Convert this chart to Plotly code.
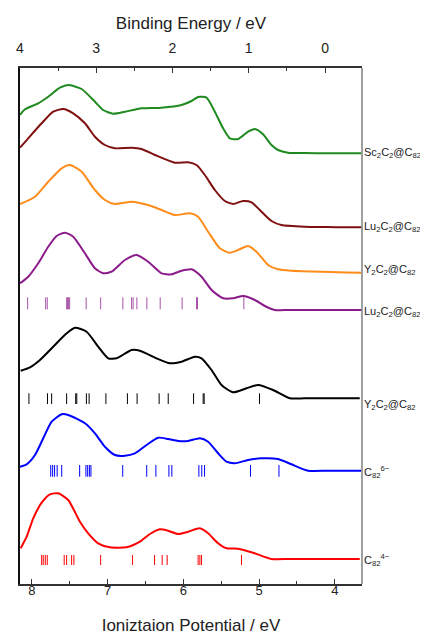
import plotly.graph_objects as go

# ---------------- data ----------------
names = ["Sc2C2@C82", "Lu2C2@C82", "Y2C2@C82", "Lu2C2@C82 (calc)", "Y2C2@C82 (calc)", "C82 6-", "C82 4-"]

green_ip = [8.158, 8.092, 7.917, 7.785, 7.630, 7.521, 7.344, 7.168, 7.059, 6.927, 6.772, 6.552, 6.288, 6.024,
            5.892, 5.805, 5.694, 5.584, 5.475, 5.386, 5.277, 5.145, 5.056, 4.947, 4.836, 4.749, 4.617,
            4.40, 4.10, 3.85, 3.648]
green_int = [38.3, 44, 50, 56.6, 65.6, 68.3, 64.3, 51.6, 43.3, 39.6, 41.6, 45, 45.6, 48.3,
             52.3, 56.3, 55.6, 41.6, 25, 15, 14.3, 21.6, 24.3, 19, 8.3, 3.3, 0.6,
             0.2, 0.1, 0, 0]

dred_ip = [8.158, 8.049, 7.872, 7.719, 7.587, 7.455, 7.300, 7.168, 7.036, 6.904, 6.684, 6.552, 6.376, 6.112,
           5.937, 5.826, 5.716, 5.584, 5.452, 5.343, 5.211, 5.100, 4.968, 4.836, 4.704, 4.396,
           4.10, 3.85, 3.648]
dred_int = [79.6, 89, 104, 115.6, 118.3, 114, 104, 90.6, 82.3, 79, 79.6, 78.3, 72.3, 64.6,
            65, 62.3, 52.3, 37.3, 26.3, 23.3, 26.3, 25, 15.6, 6.3, 2.3, 0.6,
            0.3, 0, 0]

orange_ip = [8.158, 7.960, 7.785, 7.608, 7.498, 7.344, 7.168, 7.036, 6.904, 6.684, 6.465, 6.288, 6.112,
             5.914, 5.805, 5.673, 5.518, 5.386, 5.277, 5.145, 5.034, 4.881, 4.749, 4.572,
             4.30, 4.05, 3.85, 3.648]
orange_int = [68.7, 76, 91, 104.4, 107.7, 101, 82.7, 72.7, 68.7, 71, 67.7, 62.7, 57.7,
              59.4, 56, 41, 24.4, 20, 22.7, 26.7, 21, 7.7, 3.4, 2,
              1.2, 0.6, 0.2, 0]

purple_ip = [8.158, 8.049, 7.917, 7.785, 7.674, 7.564, 7.455, 7.300, 7.168, 7.059, 6.948, 6.772, 6.618,
             6.465, 6.288, 6.156, 6.024, 5.892, 5.760, 5.628, 5.475, 5.343, 5.211, 5.056, 4.924, 4.792,
             4.60, 4.30, 4.00, 3.648]
purple_int = [26.7, 33.3, 46.7, 63.3, 74, 77.3, 73.3, 56.7, 41.7, 36.7, 38.3, 50, 55,
              48.3, 36.7, 35.7, 39.3, 40.7, 33.3, 20, 11.7, 11.7, 14, 10, 4, 0,
              0, 0, 0, 0]
purple_sticks = [8.057, 7.819, 7.798, 7.542, 7.529, 7.516, 7.502, 7.284, 7.092, 6.799, 6.684, 6.663,
                 6.614, 6.482, 6.306, 6.016, 5.826, 5.813, 5.201]

black_ip = [8.149, 8.026, 7.894, 7.719, 7.542, 7.432, 7.278, 7.125, 6.993, 6.882, 6.684, 6.574, 6.354,
            6.178, 6.024, 5.848, 5.760, 5.628, 5.496, 5.343, 5.166, 5.013, 4.815, 4.594,
            4.40, 4.10, 3.90, 3.670]
black_int = [27.6, 31, 38.3, 51.6, 65, 70.6, 66.6, 51.6, 40, 40, 48.3, 47.6, 40,
             35, 36.6, 41.6, 40, 28.3, 13.3, 6, 10, 13.3, 8.3, 0,
             0, 0, 0, 0]
black_sticks = [8.040, 7.795, 7.740, 7.542, 7.422, 7.408, 7.281, 7.245, 7.023, 6.739, 6.611, 6.320,
                6.200, 5.865, 5.738, 5.725, 4.994]

blue_ip = [8.158, 8.070, 7.960, 7.851, 7.740, 7.608, 7.521, 7.300, 7.168, 7.036, 6.904, 6.772, 6.640,
           6.486, 6.333, 6.201, 6.069, 5.937, 5.782, 5.673, 5.541, 5.430, 5.320, 5.145, 4.968, 4.749,
           4.572, 4.352, 4.10, 3.90, 3.648]
blue_int = [4, 6.4, 15.7, 32.4, 49, 56.4, 55.7, 47.4, 37.4, 24, 15.7, 15, 17.4,
            25.7, 33, 31.7, 29.7, 29.7, 32.4, 29, 17.4, 9, 7.4, 10.7, 12.4, 11.7,
            6.4, 0, 0, 0, 0]
blue_sticks = [7.752, 7.727, 7.701, 7.667, 7.607, 7.370, 7.287, 7.264, 7.241, 7.221, 6.801, 6.484,
               6.363, 6.191, 6.152, 5.795, 5.757, 5.720, 5.113, 4.737]

red_ip = [8.149, 8.070, 7.983, 7.872, 7.762, 7.653, 7.521, 7.366, 7.257, 7.125, 6.970, 6.750, 6.574,
          6.442, 6.310, 6.201, 6.069, 5.937, 5.782, 5.673, 5.541, 5.430, 5.277, 5.079, 4.836,
          4.60, 4.30, 4.00, 3.670]
red_int = [10.7, 22.3, 40.7, 56.3, 64.7, 65.7, 59, 37.3, 25.7, 15.7, 11.7, 11.7, 17.3,
           25, 29.7, 28.3, 25, 27.3, 30.7, 25.7, 15.7, 10.7, 10.3, 6.3, 0,
           0, 0, 0, 0]
red_sticks = [7.872, 7.851, 7.824, 7.798, 7.574, 7.542, 7.476, 7.446, 7.093, 6.671, 6.380, 6.280,
              6.214, 5.805, 5.782, 5.760, 5.232]

bottom_ticks = [8, 7, 6, 5, 4]
top_ticks = [4, 3, 2, 1, 0]

# ---------------- layout / style ----------------
offsets = [430.7, 356.7, 311.3, 274.0, 185.7, 113.3, 25.0]
colors = ["#1f8a1f", "#7f1010", "#ff8c1a", "#8b1a8b", "#000000", "#0000ff", "#ff0000"]
stick_colors = ["", "", "", "rgba(139,26,139,0.75)", "#000000", "#0000ff", "#ff0000"]
stick_span = [None, None, None, (0.7, 12.7), (-5.7, 5.0), (-6.0, 5.7), (-6.0, 4.0)]
labels = ["Sc<sub>2</sub>C<sub>2</sub>@C<sub>82</sub>",
          "Lu<sub>2</sub>C<sub>2</sub>@C<sub>82</sub>",
          "Y<sub>2</sub>C<sub>2</sub>@C<sub>82</sub>",
          "Lu<sub>2</sub>C<sub>2</sub>@C<sub>82</sub>",
          "Y<sub>2</sub>C<sub>2</sub>@C<sub>82</sub>",
          "C<sub>82</sub><sup>6−</sup>",
          "C<sub>82</sub><sup>4−</sup>"]
label_shift = [0, 0, 3, -2, -7, -1, -1]

curves = [(green_ip, green_int), (dred_ip, dred_int), (orange_ip, orange_int), (purple_ip, purple_int),
          (black_ip, black_int), (blue_ip, blue_int), (red_ip, red_int)]
sticks = [None, None, None, purple_sticks, black_sticks, blue_sticks, red_sticks]

FONT = "Liberation Sans"
fig = go.Figure()

for i, (xs, ys) in enumerate(curves):
    fig.add_trace(go.Scatter(x=xs, y=[v + offsets[i] for v in ys], mode="lines",
                             line=dict(color=colors[i], width=2, shape="spline", smoothing=0.6),
                             name=names[i], showlegend=False, hoverinfo="skip"))
    if sticks[i]:
        lo, hi = stick_span[i]
        sx, sy = [], []
        for e in sticks[i]:
            sx += [e, e, None]
            sy += [offsets[i] + lo, offsets[i] + hi, None]
        fig.add_trace(go.Scatter(x=sx, y=sy, mode="lines",
                                 line=dict(color=stick_colors[i], width=1),
                                 showlegend=False, hoverinfo="skip"))

# empty trace to carry the top axis
fig.add_trace(go.Scatter(x=[], y=[], xaxis="x2", showlegend=False))

for i, lab in enumerate(labels):
    fig.add_annotation(x=1, xref="paper", y=offsets[i], yref="y", text=lab, showarrow=False,
                       xanchor="left", yanchor="middle", xshift=0, yshift=label_shift[i],
                       font=dict(family=FONT, size=11, color="#222"))

fig.add_shape(type="line", xref="paper", yref="paper", x0=1, x1=1, y0=0, y1=1,
              line=dict(color="#808080", width=1.5))

# page body has an 8px default margin: size the figure to fill the rest of the window
fig.update_layout(
    width=420, height=627, margin=dict(l=12, r=66, t=60, b=51, autoexpand=False),
    paper_bgcolor="white", plot_bgcolor="white",
    font=dict(family=FONT, color="#222"),
    xaxis=dict(range=[8.158, 3.64], tickvals=bottom_ticks, ticks="inside", ticklen=5,
               tickcolor="#333", showline=True, linecolor="#333", linewidth=1.5, automargin=False,
               showgrid=False, zeroline=False, tickfont=dict(size=13), ticklabelstandoff=-6,
               minor=dict(dtick=0.5, tick0=4, ticks="inside", ticklen=3, tickcolor="#333"),
               title=dict(text="Ioniztaion Potential / eV", font=dict(size=17), standoff=23)),
    xaxis2=dict(range=[4, -0.485], overlaying="x", side="top", anchor="y", automargin=False,
                tickvals=top_ticks, ticks="inside", ticklen=5, tickcolor="#333",
                showline=True, linecolor="#333", linewidth=1.5, showgrid=False, zeroline=False,
                tickfont=dict(size=14), ticklabelstandoff=8,
                minor=dict(dtick=0.5, tick0=0, ticks="inside", ticklen=3, tickcolor="#333"),
                title=dict(text="Binding Energy / eV", font=dict(size=17), standoff=6)),
    yaxis=dict(range=[0, 516], showticklabels=False, ticks="", showgrid=False, zeroline=False,
               automargin=False, showline=True, linecolor="#111", linewidth=1.5),
)

fig.write_html("out.html")
